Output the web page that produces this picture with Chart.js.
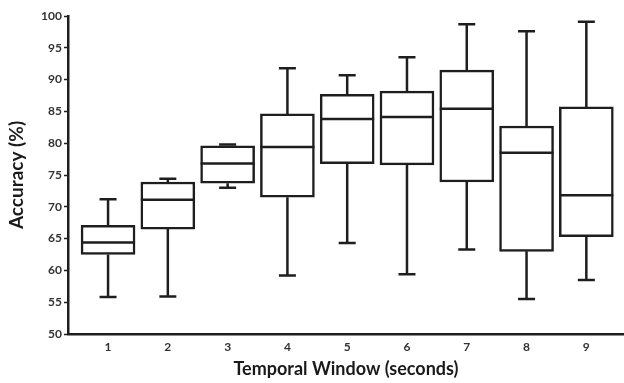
<!DOCTYPE html>
<html>
<head>
<meta charset="utf-8">
<script src="https://cdn.jsdelivr.net/npm/chart.js@4.4.0/dist/chart.umd.min.js"></script>
<style>
  html, body { margin: 0; padding: 0; background: #fff; }
  #wrap { width: 624px; height: 383px; }
</style>
</head>
<body>
<div id="wrap"><canvas id="boxChart"></canvas></div>
<script>
// temporal window sizes (seconds)
const windows = [1, 2, 3, 4, 5, 6, 7, 8, 9];
// box plot stats (accuracy %)
const whiskerLow = [55.8, 55.9, 73.0, 59.2, 64.3, 59.4, 63.3, 55.5, 58.5];
const q1 = [62.5, 66.5, 73.7, 71.5, 76.8, 76.6, 73.9, 63.0, 65.3];
const median = [64.4, 71.1, 76.8, 79.4, 83.8, 84.1, 85.4, 78.5, 71.8];
const q3 = [67.1, 73.9, 79.6, 84.6, 87.7, 88.2, 91.5, 82.7, 85.7];
const whiskerHigh = [71.2, 74.4, 79.8, 91.8, 90.7, 93.5, 98.7, 97.6, 99.1];
const yTicks = [50, 55, 60, 65, 70, 75, 80, 85, 90, 95, 100];

const ink = "#1e1e1e";

// whiskers, caps and median lines, placed with the chart's scales
const boxExtras = {
  id: "boxExtras",
  afterDatasetsDraw(chart) {
    const ctx = chart.ctx;
    const xs = chart.scales.x;
    const ys = chart.scales.y;
    const capHalf = 8.5;
    const boxHalf = 27;
    ctx.save();
    ctx.strokeStyle = ink;
    ctx.lineWidth = 2.5;
    windows.forEach((w, i) => {
      const x = xs.getPixelForValue(w);
      const yh = ys.getPixelForValue(whiskerHigh[i]);
      const yl = ys.getPixelForValue(whiskerLow[i]);
      const ym = ys.getPixelForValue(median[i]);
      ctx.beginPath();
      // whiskers
      ctx.moveTo(x, ys.getPixelForValue(q3[i]));
      ctx.lineTo(x, yh);
      ctx.moveTo(x, ys.getPixelForValue(q1[i]));
      ctx.lineTo(x, yl);
      // caps
      ctx.moveTo(x - capHalf, yh);
      ctx.lineTo(x + capHalf, yh);
      ctx.moveTo(x - capHalf, yl);
      ctx.lineTo(x + capHalf, yl);
      // median
      ctx.moveTo(x - boxHalf, ym);
      ctx.lineTo(x + boxHalf, ym);
      ctx.stroke();
    });
    ctx.restore();
  },
};

const ctx = document.getElementById("boxChart").getContext("2d");
new Chart(ctx, {
  type: "bar",
  data: {
    datasets: [
      {
        label: "IQR",
        data: windows.map((w, i) => ({ x: w, y: [q1[i], q3[i]] })),
        backgroundColor: "#ffffff",
        borderColor: ink,
        borderWidth: 2.5,
        borderSkipped: false,
        barThickness: 54,
        grouped: false,
      },
    ],
  },
  options: {
    responsive: true,
    maintainAspectRatio: false,
    animation: false,
    layout: { padding: { top: 16, right: 0, left: 0, bottom: 0 } },
    plugins: {
      legend: { display: false },
      tooltip: { enabled: false },
    },
    scales: {
      x: {
        type: "linear",
        offset: false,
        min: 0.33,
        max: 9.63,
        afterBuildTicks: (scale) => {
          scale.ticks = windows.map((v) => ({ value: v }));
        },
        afterFit: (scale) => {
          scale.height = 49;
        },
        grid: { display: false, drawTicks: false },
        border: { display: true, color: ink, width: 2.5 },
        ticks: {
          color: "#333",
          padding: 6,
          font: { family: "Lato", size: 12, weight: "bold" },
        },
        title: {
          display: true,
          text: "Temporal Window (seconds)",
          color: "#1a1a1a",
          font: { family: "Lato", size: 18, weight: "bold" },
          padding: { top: 4, bottom: 3 },
        },
      },
      y: {
        min: 50,
        max: 100,
        afterBuildTicks: (scale) => {
          scale.ticks = yTicks.map((v) => ({ value: v }));
        },
        afterFit: (scale) => {
          scale.width = 68;
        },
        grid: {
          drawOnChartArea: false,
          drawTicks: true,
          tickLength: 4,
          tickWidth: 1.5,
          tickColor: ink,
        },
        border: { display: true, color: ink, width: 2.5 },
        ticks: {
          color: "#333",
          padding: 2,
          font: { family: "Lato", size: 12, weight: "bold" },
        },
        title: {
          display: true,
          text: "Accuracy (%)",
          color: "#1a1a1a",
          font: { family: "Lato", size: 19, weight: "bold" },
          padding: { top: 5, bottom: 4 },
        },
      },
    },
  },
  plugins: [boxExtras],
});
</script>
</body>
</html>
